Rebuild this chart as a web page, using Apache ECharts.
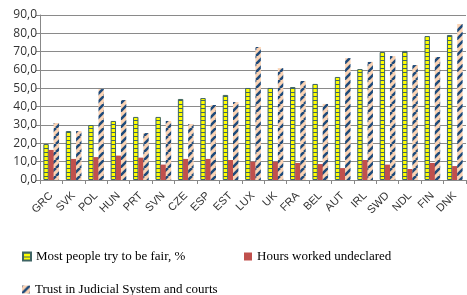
<!DOCTYPE html>
<html lang="en">
<head>
  <meta charset="UTF-8">
  <title>Fairness, undeclared work and trust</title>
  <script src="https://cdn.jsdelivr.net/npm/echarts@6/dist/echarts.min.js"></script>
  <style>
    html, body { margin: 0; padding: 0; background: #fff; }
    #chart { width: 467px; height: 295px; }
  </style>
</head>
<body>
  <div id="chart"></div>
  <script>
    const countries = ['GRC', 'SVK', 'POL', 'HUN', 'PRT', 'SVN', 'CZE', 'ESP', 'EST', 'LUX',
      'UK', 'FRA', 'BEL', 'AUT', 'IRL', 'SWD', 'NDL', 'FIN', 'DNK']
    const fairPeople = [19.6, 26.7, 30.0, 32.2, 34.4, 34.4, 44.2, 44.7, 46.4, 50.2,
      50.2, 50.7, 52.4, 56.2, 60.5, 69.8, 70.4, 78.5, 79.1]
    const undeclaredHours = [16.4, 11.5, 12.5, 13.3, 12.2, 8.4, 11.5, 11.5, 10.9, 10.0,
      10.0, 9.3, 8.7, 6.5, 10.9, 8.4, 6.0, 9.3, 7.6]
    const trustJudicial = [31.1, 26.7, 49.6, 43.6, 25.6, 32.2, 30.5, 40.9, 42.5, 72.5,
      61.0, 54.0, 41.5, 66.5, 64.4, 67.6, 62.7, 67.1, 85.1]
    const seriesNames = ['Most people try to be fair, %', 'Hours worked undeclared',
      'Trust in Judicial System and courts']

    // yellow bars with dark horizontal bands
    function gridPattern() {
      const c = document.createElement('canvas')
      c.width = 4; c.height = 4
      const ctx = c.getContext('2d')
      ctx.fillStyle = '#FFFF00'
      ctx.fillRect(0, 0, 4, 4)
      ctx.fillStyle = '#3E6464'
      ctx.fillRect(0, 0, 4, 1)
      return c
    }

    // peach bars with blue diagonal stripes
    function stripePattern() {
      const s = 8
      const c = document.createElement('canvas')
      c.width = s; c.height = s
      const ctx = c.getContext('2d')
      ctx.fillStyle = '#FBD3B4'
      ctx.fillRect(0, 0, s, s)
      ctx.strokeStyle = '#1F4A7A'
      ctx.lineWidth = 2.6
      ctx.beginPath()
      for (let k = -1; k <= 1; k++) {
        ctx.moveTo(k * s, s)
        ctx.lineTo(k * s + s, 0)
      }
      ctx.stroke()
      return c
    }

    const chart = echarts.init(document.getElementById('chart'))

    const legendText = { fontFamily: 'Liberation Serif', fontSize: 13, color: '#000' }

    const option = {
      animation: false,
      grid: { left: 40, right: 1, top: 15, bottom: 115 },
      legend: [
        { data: [seriesNames[0]], left: 17, top: 245, itemWidth: 8, itemHeight: 8, textStyle: legendText, icon: 'rect' },
        { data: [seriesNames[1]], left: 239, top: 245, itemWidth: 8, itemHeight: 8, textStyle: legendText, icon: 'rect' },
        { data: [seriesNames[2]], left: 17, top: 278, itemWidth: 8, itemHeight: 8, textStyle: legendText, icon: 'rect' }
      ],
      xAxis: {
        type: 'category',
        data: countries,
        axisLine: { lineStyle: { color: '#888' } },
        axisTick: { show: true, length: 4, lineStyle: { color: '#888' } },
        axisLabel: {
          rotate: 45,
          interval: 0,
          margin: 14,
          fontFamily: 'Liberation Sans',
          fontSize: 11,
          color: '#333'
        }
      },
      yAxis: {
        type: 'value',
        min: 0,
        max: 90,
        interval: 10,
        axisLine: { show: true, lineStyle: { color: '#888' } },
        axisTick: { show: true, length: 4, lineStyle: { color: '#888' } },
        splitLine: { lineStyle: { color: '#8a8a8a', width: 1 } },
        axisLabel: {
          formatter: v => v.toFixed(1).replace('.', ','),
          fontFamily: 'Open Sans',
          fontSize: 12,
          color: '#333',
          margin: 3
        }
      },
      series: [
        {
          name: seriesNames[0],
          type: 'bar',
          data: fairPeople,
          barGap: '-5%',
          barCategoryGap: '30%',
          itemStyle: {
            color: { image: gridPattern(), repeat: 'repeat' },
            borderColor: '#3E6464',
            borderWidth: 1
          }
        },
        {
          name: seriesNames[1],
          type: 'bar',
          data: undeclaredHours,
          itemStyle: { color: '#C0504D' }
        },
        {
          name: seriesNames[2],
          type: 'bar',
          data: trustJudicial,
          itemStyle: { color: { image: stripePattern(), repeat: 'repeat' } }
        }
      ]
    }

    chart.setOption(option)
  </script>
</body>
</html>
